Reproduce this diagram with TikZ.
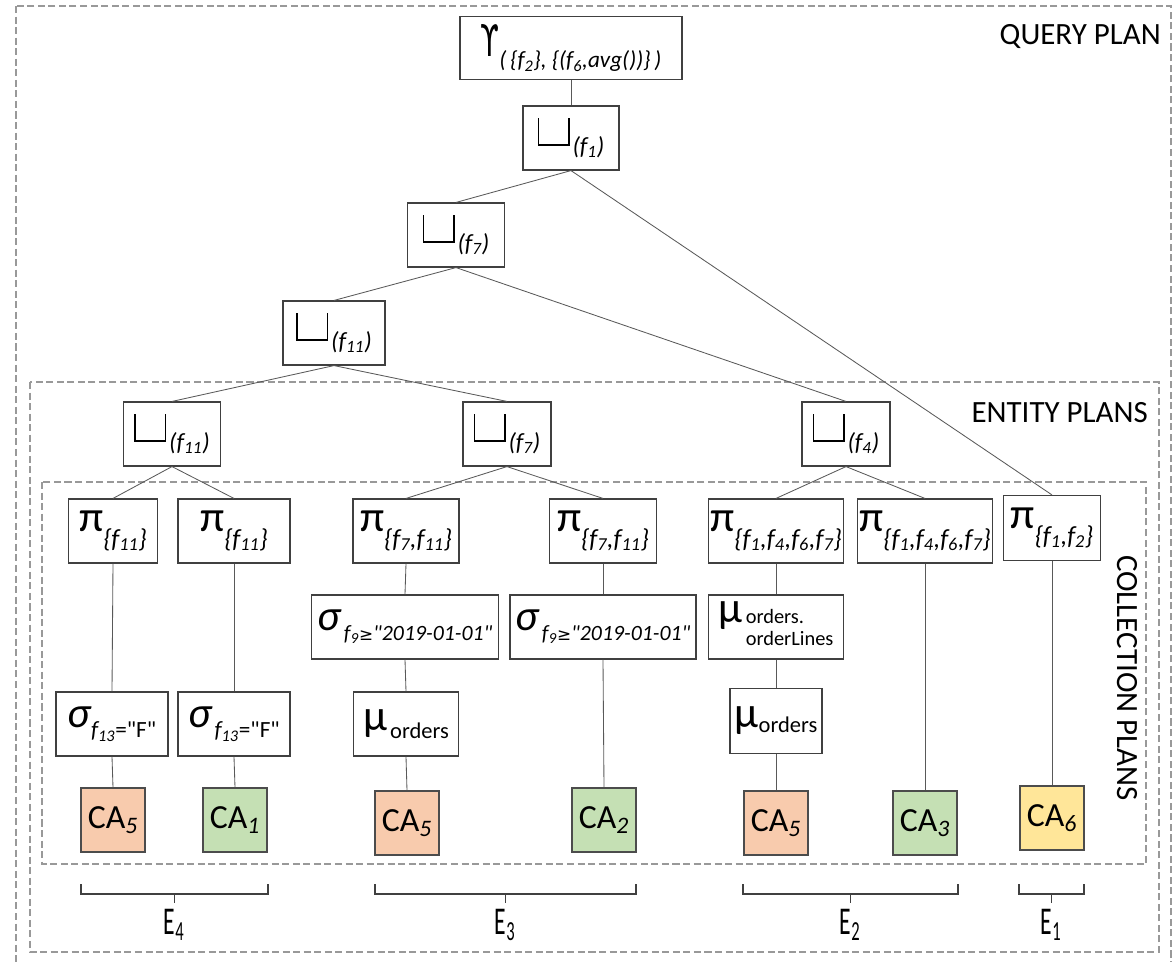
\documentclass[tikz,border=0pt]{standalone}
\usepackage{fontspec}
\usepackage{graphicx}
\setmainfont{Carlito}
\newfontfamily\djv{DejaVu Sans}

\definecolor{laranja}{HTML}{F8CBAD}
\definecolor{verde}{HTML}{C5E0B4}
\definecolor{amarelo}{HTML}{FFE699}

% simbolo grande, indice rebaixado, campo f_i
\newcommand{\simb}[1]{{\fontsize{31}{33}\selectfont #1}}
\newcommand{\ind}[3][16.5]{\raisebox{#2}{\fontsize{#1}{18}\selectfont\itshape #3}}
\newcommand{\indr}[3][16]{\raisebox{#2}{\fontsize{#1}{17}\selectfont #3}}
\newcommand{\fsub}[1]{f\textsubscript{#1}}
\newcommand{\aspas}{{\addfontfeatures{Ligatures=TeXOff}\symbol{34}}}
\newcommand{\uniao}{\rule{0.9pt}{19.5pt}\rule{21pt}{0.9pt}\rule{0.9pt}{19.5pt}\hspace{2pt}}

\begin{document}
\begin{tikzpicture}[
		x=0.025cm, y=-0.025cm,
		caixa/.style={
			draw=black!75,
			rectangle,
			minimum height=1.6cm,
			inner sep=0pt,
			align=center,
			line width=0.8pt,
			fill=white
		},
		colecao/.style={
			draw=black!70,
			rectangle,
			minimum width=1.6cm,
			minimum height=1.6cm,
			inner sep=0pt,
			line width=0.8pt,
			font=\fontsize{24}{26}\selectfont
		},
		ligacao/.style={draw=black!65, line width=0.6pt},
		tracejado/.style={draw=black!40, line width=1pt, dash pattern=on 5pt off 2.5pt},
		rotulo/.style={font=\fontsize{22}{24}\selectfont, inner sep=0pt},
		chave/.style={draw=black!75, line width=0.8pt}
		]
		
		\useasboundingbox (0,0) rectangle (1173,962);
		
		% planos tracejados
		\draw[tracejado] (16,6) rectangle (1171,980);
		\draw[tracejado] (30,382) rectangle (1159,952);
		\draw[tracejado] (42,482) rectangle (1146,864);
		
		\node[rotulo, anchor=east] (qplan) at (1161,37) {QUERY PLAN};
		\node[rotulo, anchor=east] (eplan) at (1148,413) {ENTITY PLANS};
		\node[rotulo, rotate=-90] (cplan) at (1127,678) {COLLECTION PLANS};
		
		% query plan
		\node[caixa, minimum width=5.55cm, minimum height=1.575cm] (gam) at (571,48)
			{\scalebox{0.62}[1]{\simb{\djv ϒ}}\ind{-8pt}{(\,\{\fsub{2}\}, \{(\fsub{6},avg())\}\,)}};
		\node[caixa, minimum width=2.4cm] (u1) at (571,138) {\uniao\ind[17.5]{-6pt}{(\fsub{1})}};
		\node[caixa, minimum width=2.425cm] (u7) at (456,235) {\uniao\ind[17.5]{-6pt}{(\fsub{7})}};
		\node[caixa, minimum width=2.55cm] (u11) at (334,333) {\uniao\ind[17.5]{-6pt}{(\fsub{11})}};
		
		% entity plans
		\node[caixa, minimum width=2.425cm] (e11) at (172,434) {\uniao\ind[17.5]{-6pt}{(\fsub{11})}};
		\node[caixa, minimum width=2.2cm] (e7) at (507,434) {\uniao\ind[17.5]{-6pt}{(\fsub{7})}};
		\node[caixa, minimum width=2.2cm] (e4) at (846,434) {\uniao\ind[17.5]{-6pt}{(\fsub{4})}};
		
		% collection plans
		\node[caixa, minimum width=2.225cm] (p1) at (113,531) {\simb{π}\ind[18.5]{-11pt}{\{\fsub{11}\}}};
		\node[caixa, minimum width=2.8cm] (p2) at (234,531) {\simb{π}\ind[18.5]{-11pt}{\{\fsub{11}\}}};
		\node[caixa, minimum width=2.65cm] (p3) at (406,531) {\simb{π}\ind[18.5]{-11pt}{\{\fsub{7},\fsub{11}\}}};
		\node[caixa, minimum width=2.675cm] (p4) at (603,531) {\simb{π}\ind[18.5]{-11pt}{\{\fsub{7},\fsub{11}\}}};
		\node[caixa, minimum width=3.375cm] (p5) at (776,531) {\simb{π}\ind[18.5]{-11pt}{\{\fsub{1},\fsub{4},\fsub{6},\fsub{7}\}}};
		\node[caixa, minimum width=3.375cm] (p6) at (925,531) {\simb{π}\ind[18.5]{-11pt}{\{\fsub{1},\fsub{4},\fsub{6},\fsub{7}\}}};
		\node[caixa, minimum width=2.425cm, minimum height=1.625cm] (p7) at (1052,528) {\simb{π}\ind[18.5]{-11pt}{\{\fsub{1},\fsub{2}\}}};
		
		\node[caixa, minimum width=4.675cm] (s3) at (405,627) {\simb{\itshape σ}\ \ind[15.5]{-7pt}{\fsub{9}{\djv\fontsize{12}{14}\selectfont ≥}\aspas2019-01-01\aspas}};
		\node[caixa, minimum width=4.65cm] (s4) at (603,627) {\simb{\itshape σ}\ \ind[15.5]{-7pt}{\fsub{9}{\djv\fontsize{12}{14}\selectfont ≥}\aspas2019-01-01\aspas}};
		\node[caixa, minimum width=3.375cm] (m5) at (776,627)
			{\simb{μ}\ \raisebox{-9pt}{\fontsize{14.5}{16}\selectfont\begin{tabular}{@{}l@{}}orders.\\orderLines\end{tabular}}};
		
		\node[caixa, minimum width=2.8cm] (s1) at (112,724) {\simb{\itshape σ}\ind{-7pt}{\fsub{13}\upshape=\aspas F\aspas}};
		\node[caixa, minimum width=2.8cm] (s2) at (234,724) {\simb{\itshape σ}\ \ind{-7pt}{\fsub{13}\upshape=\aspas F\aspas}};
		\node[caixa, minimum width=2.625cm] (m3) at (406,724) {\simb{μ}\ \indr{-6pt}{orders}};
		\node[caixa, minimum width=2.3cm, minimum height=1.625cm] (m5b) at (776,721) {\simb{μ}\indr{-3pt}{orders}};
		
		\node[colecao, fill=laranja] (c1) at (113,820) {CA\textsubscript{\textit{5}}};
		\node[colecao, fill=verde] (c2) at (235,820) {CA\textsubscript{\textit{1}}};
		\node[colecao, fill=laranja] (c3) at (407,823) {CA\textsubscript{\textit{5}}};
		\node[colecao, fill=verde] (c4) at (604,820) {CA\textsubscript{\textit{2}}};
		\node[colecao, fill=laranja] (c5) at (776,823) {CA\textsubscript{\textit{5}}};
		\node[colecao, fill=verde] (c6) at (925,823) {CA\textsubscript{\textit{3}}};
		\node[colecao, fill=amarelo] (c7) at (1052,818) {CA\textsubscript{\textit{6}}};
		
		%Linhas
		\draw[ligacao] (gam.south) -- (u1.north);
		\draw[ligacao] (u1.south) -- (u7.north);
		\draw[ligacao] (u1.south) -- (p7.north);
		\draw[ligacao] (u7.south) -- (u11.north);
		\draw[ligacao] (u7.south) -- (e4.north);
		\draw[ligacao] (u11.south) -- (e11.north);
		\draw[ligacao] (u11.south) -- (e7.north);
		
		\draw[ligacao] (e11.south) -- (p1.north);
		\draw[ligacao] (e11.south) -- (p2.north);
		\draw[ligacao] (e7.south) -- (p3.north);
		\draw[ligacao] (e7.south) -- (p4.north);
		\draw[ligacao] (e4.south) -- (p5.north);
		\draw[ligacao] (e4.south) -- (p6.north);
		
		\draw[ligacao] (p1.south) -- (s1.north);
		\draw[ligacao] (s1.south) -- (c1.north);
		\draw[ligacao] (p2.south) -- (s2.north);
		\draw[ligacao] (s2.south) -- (c2.north);
		\draw[ligacao] (p3.south) -- (s3.north);
		\draw[ligacao] (s3.south) -- (m3.north);
		\draw[ligacao] (m3.south) -- (c3.north);
		\draw[ligacao] (p4.south) -- (s4.north);
		\draw[ligacao] (s4.south) -- (c4.north);
		\draw[ligacao] (p5.south) -- (m5.north);
		\draw[ligacao] (m5.south) -- (m5b.north);
		\draw[ligacao] (m5b.south) -- (c5.north);
		\draw[ligacao] (p6.south) -- (c6.north);
		\draw[ligacao] (p7.south) -- (c7.north);
		
		% chaves das entidades
		\draw[chave] (81,884) |- (268,894) -- (268,884);
		\draw[chave] (174.5,894) -- (174.5,903);
		\node[rotulo] (E4) at (174,925) {\scalebox{0.6}[1]{\fontsize{28}{30}\selectfont E\textsubscript{4}}};
		
		\draw[chave] (375,884) |- (636,894) -- (636,884);
		\draw[chave] (505.5,894) -- (505.5,903);
		\node[rotulo] (E3) at (505,925) {\scalebox{0.6}[1]{\fontsize{28}{30}\selectfont E\textsubscript{3}}};
		
		\draw[chave] (743,884) |- (958,894) -- (958,884);
		\draw[chave] (850.5,894) -- (850.5,903);
		\node[rotulo] (E2) at (850,925) {\scalebox{0.6}[1]{\fontsize{28}{30}\selectfont E\textsubscript{2}}};
		
		\draw[chave] (1019,884) |- (1084,894) -- (1084,884);
		\draw[chave] (1051.5,894) -- (1051.5,903);
		\node[rotulo] (E1) at (1051,925) {\scalebox{0.6}[1]{\fontsize{28}{30}\selectfont E\textsubscript{1}}};
		
	\end{tikzpicture}
\end{document}
